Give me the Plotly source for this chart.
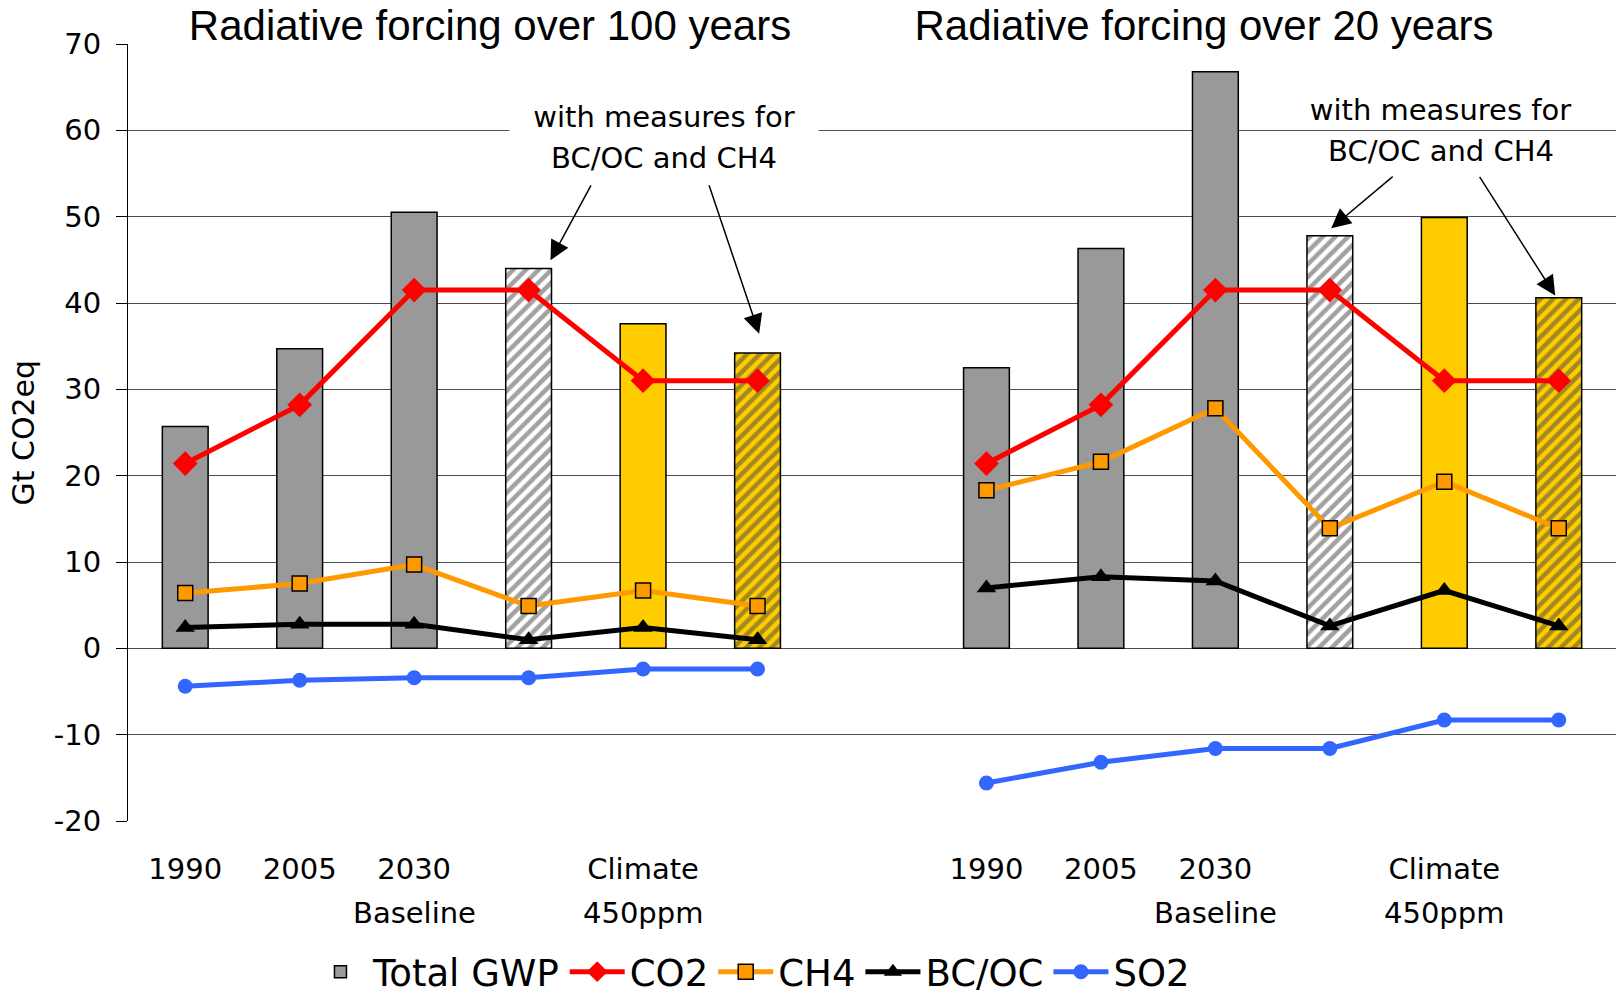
import plotly.graph_objects as go

# ---------------- data ----------------
scenarios = ["1990", "2005", "2030 Baseline", "2030 Baseline + BC/OC, CH4 measures",
             "Climate 450ppm", "Climate 450ppm + BC/OC, CH4 measures"]
tick_first = ["1990", "2005", "2030", "", "Climate", ""]
tick_second = ["", "", "Baseline", "", "450ppm", ""]
y_ticks = [-20, -10, 0, 10, 20, 30, 40, 50, 60, 70]

total_100 = [25.7, 34.7, 50.5, 44.0, 37.6, 34.2]
total_20 = [32.5, 46.3, 66.8, 47.8, 49.9, 40.6]
co2_100 = [21.4, 28.2, 41.5, 41.5, 31.0, 31.0]
co2_20 = [21.4, 28.2, 41.5, 41.5, 31.0, 31.0]
ch4_100 = [6.4, 7.5, 9.7, 4.9, 6.7, 4.9]
ch4_20 = [18.3, 21.6, 27.8, 13.9, 19.3, 13.9]
bcoc_100 = [2.4, 2.8, 2.8, 1.0, 2.4, 1.0]
bcoc_20 = [7.0, 8.3, 7.8, 2.6, 6.7, 2.6]
so2_100 = [-4.4, -3.7, -3.4, -3.4, -2.4, -2.4]
so2_20 = [-15.6, -13.2, -11.6, -11.6, -8.3, -8.3]

# ---------------- styling ----------------
GRAY = "#999999"
YELLOW = "#FFCC00"
WHITE = "#FFFFFF"
bar_bg = [GRAY, GRAY, GRAY, WHITE, YELLOW, YELLOW]
bar_shape = ["", "", "", "/", "", "/"]
VERD = "Verdana, DejaVu Sans, sans-serif"
ARIAL = "Liberation Sans, Arial, sans-serif"

n = len(scenarios)
xs = list(range(2 * n + 1))          # 6 + gap + 6


def both(a, b, fill=None):
    return a + [fill] + b


fig = go.Figure()

fig.add_trace(go.Bar(
    x=xs, y=both(total_100, total_20), name="Total GWP", width=0.4,
    marker=dict(
        color=both(bar_bg, bar_bg, WHITE),
        line=dict(color="black", width=1.5),
        pattern=dict(shape=both(bar_shape, bar_shape, ""),
                     fgcolor=GRAY, bgcolor=both(bar_bg, bar_bg, WHITE),
                     size=9, solidity=0.5),
    ),
))

line_specs = [
    ("CO2", co2_100, co2_20, "#FF0000", dict(symbol="diamond", size=19, color="#FF0000")),
    ("CH4", ch4_100, ch4_20, "#FF9900", dict(symbol="square", size=15, color="#FF9900",
                                              line=dict(color="black", width=1.5))),
    ("BC/OC", bcoc_100, bcoc_20, "#000000", dict(symbol="triangle-up", size=17, color="black")),
    ("SO2", so2_100, so2_20, "#3366FF", dict(symbol="circle", size=15, color="#3366FF")),
]
for name, a, b, col, mk in line_specs:
    fig.add_trace(go.Scatter(x=xs, y=both(a, b), name=name, mode="lines+markers",
                             connectgaps=False, line=dict(color=col, width=5), marker=mk))

tickvals, ticktext = [], []
for grp in (0, n + 1):
    for i, t in enumerate(tick_first):
        if t:
            tickvals.append(grp + i)
            ticktext.append(t)

annotations = []
for grp in (0, n + 1):
    for i, t in enumerate(tick_second):
        if t:
            annotations.append(dict(x=grp + i, xref="x", y=-0.1186, yref="paper", text=t,
                                    showarrow=False, yanchor="middle",
                                    font=dict(family=VERD, size=29, color="black")))

# panel titles
for x, t in [(2.66, "Radiative forcing over 100 years"), (8.90, "Radiative forcing over 20 years")]:
    annotations.append(dict(x=x, xref="x", y=1.0232, yref="paper", text=t, showarrow=False,
                            yanchor="middle", bgcolor="white", width=652, borderpad=0,
                            font=dict(family=ARIAL, size=42, color="black")))

# "with measures" notes
for x, y1, y2, w in [(4.184, 61.6, 56.8, 308), (10.968, 62.4, 57.65, 313)]:
    annotations.append(dict(x=x, xref="x", y=y1, yref="y", text="with measures for",
                            showarrow=False, bgcolor="white", width=w, borderpad=0,
                            font=dict(family=VERD, size=29, color="black")))
    annotations.append(dict(x=x, xref="x", y=y2, yref="y", text="BC/OC and CH4",
                            showarrow=False,
                            font=dict(family=VERD, size=29, color="black")))

# arrows (tail -> head)
for (tx, ty, hx, hy) in [(3.552, 53.8, 3.191, 44.95), (4.572, 53.8, 5.014, 36.44),
                         (10.562, 54.78, 10.012, 48.66), (11.30, 54.78, 11.969, 40.87)]:
    annotations.append(dict(x=hx, y=hy, xref="x", yref="y", ax=tx, ay=ty, axref="x", ayref="y",
                            text="", showarrow=True, arrowhead=2, arrowsize=2.6,
                            arrowwidth=1.5, arrowcolor="black", standoff=0))

# y axis title
annotations.append(dict(x=-0.0705, xref="paper", xanchor="center", y=0.5, yref="paper",
                        yanchor="middle", text="Gt CO2eq", textangle=-90, showarrow=False,
                        font=dict(family=VERD, size=30, color="black")))

fig.update_layout(
    width=1621, height=994,
    margin=dict(l=128, r=5, t=44, b=173),
    paper_bgcolor="white", plot_bgcolor="white",
    annotations=annotations,
    showlegend=True,
    legend=dict(orientation="h", x=0.419, xanchor="center", xref="paper",
                y=0.022, yanchor="middle", yref="container",
                font=dict(family=VERD, size=37, color="black"),
                itemwidth=55, tracegroupgap=0, bgcolor="rgba(0,0,0,0)"),
    xaxis=dict(range=[-0.5, 2 * n + 0.5], tickmode="array", tickvals=tickvals, ticktext=ticktext,
               showgrid=False, zeroline=False, showline=False, ticks="",
               tickfont=dict(family=VERD, size=29, color="black"), ticklabelstandoff=28),
    yaxis=dict(range=[-20, 70], tickmode="array", tickvals=y_ticks,
               ticktext=[str(v) for v in y_ticks],
               showgrid=True, gridcolor="#4d4d4d", gridwidth=1,
               zeroline=False, showline=True, linecolor="black", linewidth=1,
               ticks="outside", ticklen=11, tickcolor="black",
               tickfont=dict(family=VERD, size=29, color="black"), ticklabelstandoff=9),
)

fig.write_html("out.html")
